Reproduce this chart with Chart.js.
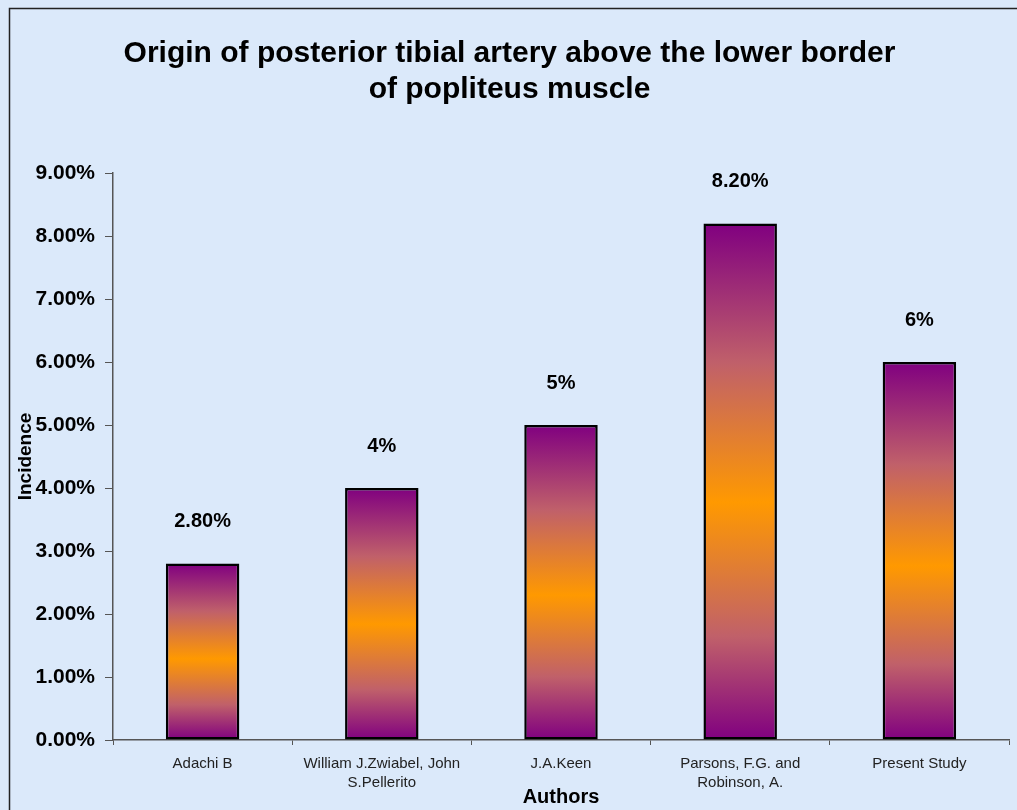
<!DOCTYPE html>
<html>
<head>
<meta charset="utf-8">
<script src="https://cdn.jsdelivr.net/npm/chart.js@4.4.0/dist/chart.umd.min.js"></script>
<style>
  html, body { margin: 0; padding: 0; background: #ffffff; }
  #wrap { position: absolute; left: 0; top: 0; width: 1017px; height: 810px; }
</style>
</head>
<body>
<div id="wrap"><canvas id="graf"></canvas></div>
<script>
// podaci s grafa
const autori = ['Adachi B', ['William J.Zwiabel, John', 'S.Pellerito'], 'J.A.Keen', ['Parsons, F.G. and', 'Robinson, A.'], 'Present Study'];
const incidencija = [2.8, 4, 5, 8.2, 6];
const oznake = ['2.80%', '4%', '5%', '8.20%', '6%'];
const naslov = ['Origin of posterior tibial artery above the lower border', 'of popliteus muscle'];

const FONT = "'Liberation Sans', Arial, sans-serif";

// gradijent za svaki stupac posebno (ljubicasta - narancasta - ljubicasta)
function bojaStupca(context) {
    const chart = context.chart;
    if (!chart.chartArea) return '#800080';
    const y = chart.scales.y;
    const vrh = y.getPixelForValue(context.raw);
    const dno = y.getPixelForValue(0);
    const g = chart.ctx.createLinearGradient(0, vrh, 0, dno);
    g.addColorStop(0, '#800080');
    g.addColorStop(0.27, '#c0606a');
    g.addColorStop(0.54, '#ff9900');
    g.addColorStop(0.8, '#c0606a');
    g.addColorStop(1, '#800080');
    return g;
}

// pozadina i okvir
const pozadina = {
    id: 'pozadina',
    beforeDraw(chart) {
        const c = chart.ctx;
        c.save();
        c.fillStyle = '#dbe9fa';
        c.fillRect(0, 0, chart.width, chart.height);
        c.strokeStyle = '#222';
        c.lineWidth = 1.5;
        c.beginPath();
        c.moveTo(9.5, chart.height);
        c.lineTo(9.5, 8.5);
        c.lineTo(chart.width, 8.5);
        c.stroke();
        c.restore();
    }
};

// vrijednosti iznad stupaca
const vrijednosti = {
    id: 'vrijednosti',
    afterDatasetsDraw(chart) {
        const c = chart.ctx;
        c.save();
        c.font = 'bold 20px ' + FONT;
        c.fillStyle = '#000';
        c.textAlign = 'center';
        c.textBaseline = 'middle';
        chart.getDatasetMeta(0).data.forEach((el, i) => {
            c.fillText(oznake[i], el.x, el.y - 42);
        });
        c.restore();
    }
};

const ctx = document.getElementById('graf').getContext('2d');
new Chart(ctx, {
    type: 'bar',
    data: {
        labels: autori,
        datasets: [{
            label: 'Incidence',
            data: incidencija,
            backgroundColor: bojaStupca,
            borderColor: '#000',
            borderWidth: 2.5,
            borderSkipped: false,
            barPercentage: 0.41,
            categoryPercentage: 1
        }]
    },
    options: {
        responsive: true,
        maintainAspectRatio: false,
        animation: false,
        layout: { padding: { left: 10, right: 8, top: 0, bottom: 1 } },
        plugins: {
            legend: { display: false },
            tooltip: { enabled: false },
            title: {
                display: true,
                text: naslov,
                color: '#000',
                font: { family: FONT, size: 30, weight: 'bold', lineHeight: 1.2 },
                padding: { top: 36, bottom: 65 }
            }
        },
        scales: {
            x: {
                offset: true,
                grid: { offset: true, drawOnChartArea: false, drawTicks: true, tickLength: 5, color: '#555' },
                border: { display: true, color: '#555', width: 1.5 },
                ticks: { color: '#222', font: { family: FONT, size: 15, lineHeight: 1.3 }, padding: 9, maxRotation: 0, autoSkip: false },
                title: {
                    display: true,
                    text: 'Authors',
                    color: '#000',
                    font: { family: FONT, size: 20, weight: 'bold' },
                    padding: { top: 0, bottom: 0 }
                },
                afterFit(scale) { scale.height = 69; }
            },
            y: {
                min: 0,
                max: 9,
                ticks: {
                    stepSize: 1,
                    color: '#000',
                    font: { family: FONT, size: 21, weight: 'bold' },
                    padding: 10,
                    callback: v => v.toFixed(2) + '%'
                },
                grid: { drawOnChartArea: false, drawTicks: true, tickLength: 8, color: '#555' },
                border: { display: true, color: '#555', width: 1.5 },
                title: {
                    display: true,
                    text: 'Incidence',
                    color: '#000',
                    font: { family: FONT, size: 19, weight: 'bold' },
                    padding: { top: 4, bottom: 0 }
                },
                afterFit(scale) { scale.width = 103; }
            }
        }
    },
    plugins: [pozadina, vrijednosti]
});
</script>
</body>
</html>
